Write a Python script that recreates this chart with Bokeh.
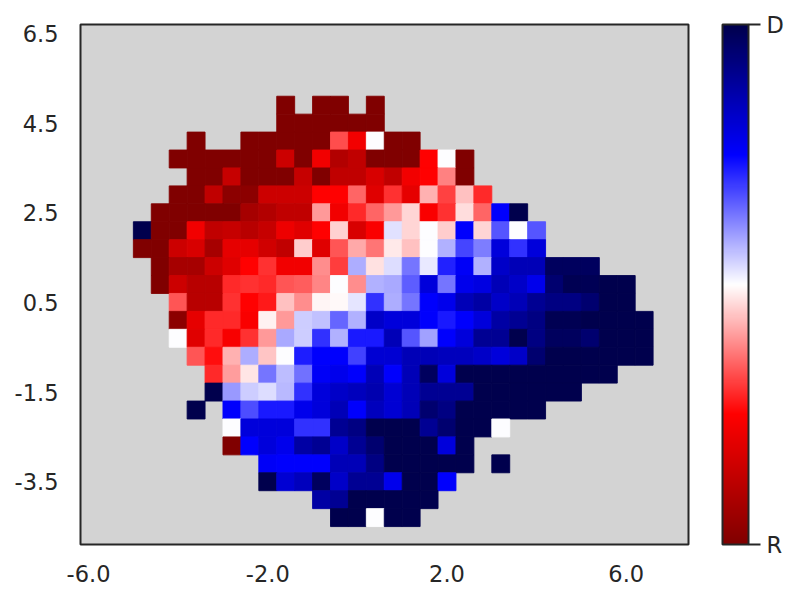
import numpy as np
from bokeh.plotting import figure
from bokeh.models import ColumnDataSource, LinearColorMapper, ColorBar, FixedTicker
from bokeh.embed import file_html
from bokeh.resources import INLINE

n = None
x_edge_start = -5.0
y_edge_top = 5.1
bin_size = 0.4
x_ticks = [-6, -2, 2, 6]
y_ticks = [-3.5, -1.5, 0.5, 2.5, 4.5, 6.5]

# vote margin per cell, -1 = R, +1 = D; top row first: (start column, values)
row00 = (8, [-1, n, -1, -1, n, -1])
row01 = (8, [-1, -1, -1, -1, -1, -1])
row02 = (3, [-1, n, n, -1, -1, -1, -1, -1, -.35, -.55, 0, -1, -1])
row03 = (2, [-1, -1, -1, -1, -1, -1, -.7, -1, -.55, -.8, -.75, -1, -1, -1, -.5, 0, -1])
row04 = (3, [-1, -1, -.72, -1, -1, -1, -.72, -1, -.75, -.75, -.65, -.75, -.55, -.5, -.25, -1])
row05 = (2, [-1, -1, -.75, -.95, -.95, -.7, -.7, -.7, -.5, -.5, -.3, -.62, -.4, -.6, -.15, -.37, -.12, -.42])
row06 = (1, [-1, -1, -1, -1, -1, -.85, -.8, -.75, -.75, -.2, -.55, -.42, -.3, -.2, -.08, -.52, -.4, -.07, -.3, .5, 1])
row07 = (0, [1, -1, -1, -.55, -.75, -.72, -.78, -.72, -.57, -.62, -.5, -.09, -.65, -.52, .06, -.08, 0, -.1, .5, -.08, .33, 0, .33])
row08 = (0, [-1, -1, -.7, -.65, -.85, -.6, -.6, -.68, -.75, -.1, -.62, -.33, -.17, -.27, -.04, -.12, 0, .15, .36, .25, .6, .4, .6])
row09 = (1, [-1, -.85, -.85, -.7, -.62, -.5, -.4, -.55, -.55, -.22, -.38, .16, -.06, .07, .27, .04, .43, .52, .15, .65, .7, .7, .95, .95, .95])
row10 = (1, [-1, -.7, -.78, -.78, -.42, -.4, -.42, -.33, -.32, -.24, 0, -.22, .15, .17, .32, .6, .27, .55, .58, .7, .65, .55, .9, .98, .97, 1, 1])
row11 = (2, [-.33, -.78, -.78, -.4, -.5, -.45, -.12, -.22, -.02, -.01, .05, .4, .16, .27, .5, .55, .7, .75, .65, .7, .8, .85, .85, .9, 1, 1])
row12 = (2, [-.95, -.6, -.42, -.42, -.52, -.03, -.2, .1, .12, .3, .15, .65, .6, .6, .5, .45, .5, .6, .75, .8, .85, .98, .98, 1, 1, 1, 1])
row13 = (2, [0, -.62, -.42, -.53, -.4, -.2, .17, .1, .4, .15, .45, .45, .7, .33, .18, .5, .6, .8, .8, 1, .85, .95, .95, .9, 1, 1, 1])
row14 = (3, [-.33, -.47, -.15, .16, -.11, 0, .44, .5, .5, .37, .62, .62, .7, .7, .68, .68, .65, .6, .65, .9, 1, 1, 1, 1, 1, 1])
row15 = (4, [-.42, -.19, -.05, .27, .13, .28, .52, .55, .5, .7, .5, .7, .95, .6, 1, 1, 1, 1, 1, 1, 1, 1, 1])
row16 = (4, [1, .2, .1, .07, .14, .4, .6, .65, .68, .72, .62, .7, .8, .8, .8, 1, 1, 1, 1, 1, 1])
row17 = (3, [1, n, .5, .35, .45, .45, .55, .6, .7, .5, .68, .62, .7, .9, .85, 1, 1, 1, 1, 1])
row18 = (5, [0, .6, .6, .6, .4, .4, .8, .85, 1, 1, 1, .8, .9, 1, 1, 0])
row19 = (5, [-1, .5, .6, .55, .75, .8, .65, .8, .9, 1, 1, 1, .6, 1])
row20 = (7, [.52, .5, .5, .5, .7, .7, .85, 1, 1, 1, 1, 1, n, 1])
row21 = (7, [1, .62, .68, .95, .65, .8, .8, .55, 1, 1, .5])
row22 = (10, [.75, .8, 1, 1, 1, 1, 1])
row23 = (11, [1, 1, 0, 1, 1])
rows = [row00, row01, row02, row03, row04, row05, row06, row07, row08, row09, row10, row11,
        row12, row13, row14, row15, row16, row17, row18, row19, row20, row21, row22, row23]

left, right, top, bottom, val = [], [], [], [], []
for r, (start, values) in enumerate(rows):
    for i, v in enumerate(values):
        if v is None:
            continue
        c = start + i
        left.append(x_edge_start + c * bin_size)
        right.append(x_edge_start + (c + 1) * bin_size)
        top.append(y_edge_top - r * bin_size)
        bottom.append(y_edge_top - (r + 1) * bin_size)
        val.append(v)

# reversed "seismic" colormap
anchors_v = [-1, -.5, 0, .5, 1]
anchors_c = np.array([[128, 0, 0], [255, 0, 0], [255, 255, 255], [0, 0, 255], [0, 0, 77]], float)
grid = np.linspace(-1, 1, 256)
palette = ["#%02x%02x%02x" % tuple(int(round(np.interp(g, anchors_v, anchors_c[:, k]))) for k in range(3)) for g in grid]
mapper = LinearColorMapper(palette=palette, low=-1, high=1)

INK = "#262626"
FONT = "DejaVu Sans"
p = figure(frame_width=608, frame_height=520, x_range=(-6.18, 7.39), y_range=(-4.9, 6.7),
           output_backend="svg", toolbar_location=None,
           min_border_left=80, min_border_top=24, min_border_bottom=46, min_border_right=0)
p.background_fill_color = "#d3d3d3"
p.grid.visible = False
p.outline_line_color = INK
p.outline_line_width = 2

src = ColumnDataSource(dict(left=left, right=right, top=top, bottom=bottom, val=val))
t = {"field": "val", "transform": mapper}
p.quad(left="left", right="right", top="top", bottom="bottom", source=src,
       fill_color=t, line_color=t, line_width=0.9)

for ax, ticks in ((p.xaxis[0], x_ticks), (p.yaxis[0], y_ticks)):
    ax.ticker = FixedTicker(ticks=ticks)
    ax.major_label_overrides = {k: "%.1f" % k for k in ticks}
    ax.axis_line_color = None
    ax.major_tick_line_color = None
    ax.minor_tick_line_color = None
    ax.major_label_text_font = FONT
    ax.major_label_text_font_size = "22.5px"
    ax.major_label_text_color = INK
p.xaxis[0].major_label_standoff = 14
p.yaxis[0].major_label_standoff = 16

cb = ColorBar(color_mapper=mapper, ticker=FixedTicker(ticks=[-1, 1]),
              major_label_overrides={-1: "R", 1: "D"},
              width=26, height=520, margin=0, padding=0, location=(34, 0),
              bar_line_color=INK, bar_line_width=2,
              major_tick_line_color=INK, major_tick_line_width=2,
              major_tick_in=0, major_tick_out=12, minor_tick_line_color=None,
              major_label_text_font=FONT, major_label_text_font_size="22.5px",
              major_label_text_color=INK, label_standoff=6)
p.add_layout(cb, "right")
p.width = 792
p.height = 590
open("out.html", "w").write(file_html(p, INLINE))
